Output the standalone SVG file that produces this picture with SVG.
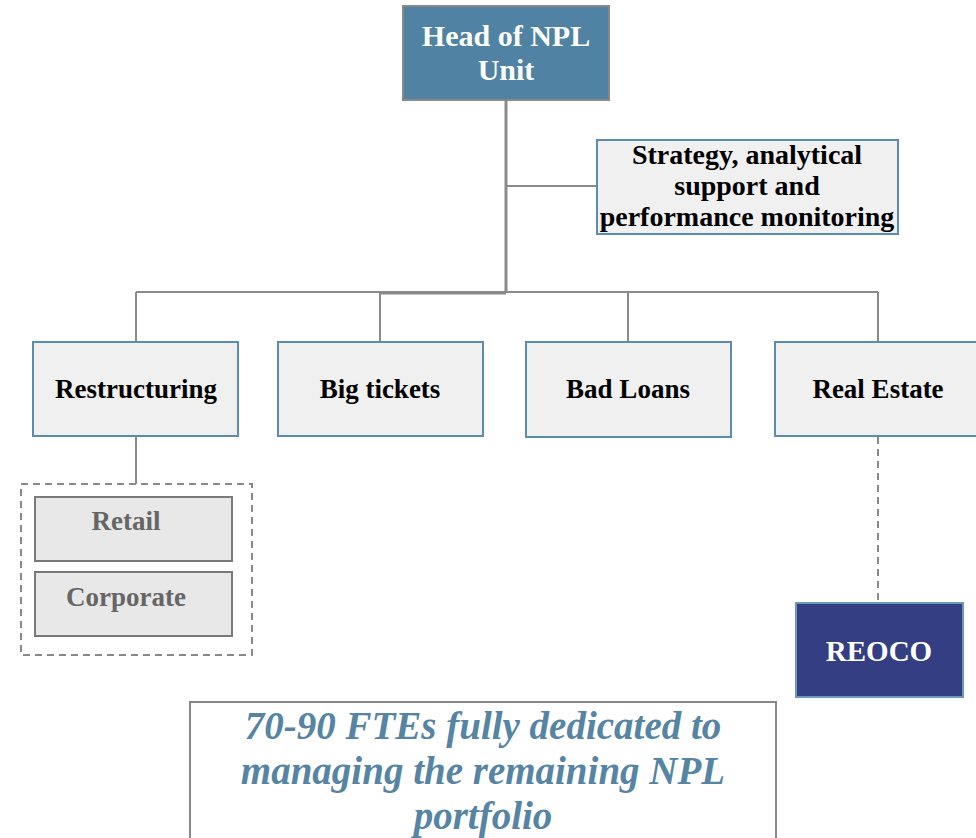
<svg xmlns="http://www.w3.org/2000/svg" width="976" height="838" viewBox="0 0 976 838">
<style>
.t{font-family:"Liberation Serif","Times New Roman",serif;font-weight:bold;text-anchor:middle}
.box{fill:#f0f0f0;stroke:#5b8db0;stroke-width:2}
.sub{fill:#e8e8e8;stroke:#7a7a7a;stroke-width:2}
.ln{stroke:#8a8a8a;stroke-width:2;fill:none}
.dash{stroke:#8a8a8a;stroke-width:2;fill:none;stroke-dasharray:7,5}
</style>
<rect width="976" height="838" fill="#ffffff"/>
<g id="connectors">
<path class="ln" d="M506 100V292" style="stroke-width:3"/>
<path class="ln" d="M506 186H597"/>
<path class="ln" d="M136 292H878"/>
<path class="ln" d="M380 293H506" style="stroke-width:3"/>
<path class="ln" d="M136 292V342M380 293V342M628 292V342M878 292V342"/>
<path class="ln" d="M136 436V484"/>
<path class="dash" d="M878 437V603"/>
</g>
<g id="head">
<rect x="403" y="6" width="206" height="94" fill="#5082a4" stroke="#888" stroke-width="2"/>
<text class="t" x="506" y="46" font-size="30" fill="#fff">Head of NPL</text>
<text class="t" x="506" y="80" font-size="30" fill="#fff">Unit</text>
</g>
<g id="strategy">
<rect class="box" x="597" y="140" width="301" height="94"/>
<text class="t" x="747" y="164" font-size="28" fill="#000">Strategy, analytical</text>
<text class="t" x="747" y="195" font-size="28" fill="#000">support and</text>
<text class="t" x="747" y="226" font-size="28" fill="#000">performance monitoring</text>
</g>
<g id="restructuring">
<rect class="box" x="33" y="342" width="205" height="94"/>
<text class="t" x="136" y="398" font-size="27" fill="#000">Restructuring</text>
</g>
<g id="bigtickets">
<rect class="box" x="278" y="342" width="205" height="94"/>
<text class="t" x="380" y="398" font-size="27" fill="#000">Big tickets</text>
</g>
<g id="badloans">
<rect class="box" x="526" y="342" width="205" height="95"/>
<text class="t" x="628" y="398" font-size="27" fill="#000">Bad Loans</text>
</g>
<g id="realestate">
<rect class="box" x="775" y="342" width="210" height="94"/>
<text class="t" x="878" y="398" font-size="27" fill="#000">Real Estate</text>
</g>
<g id="restructuring-group">
<rect class="dash" x="21" y="484" width="231" height="171"/>
</g>
<g id="retail">
<rect class="sub" x="35" y="497" width="197" height="64"/>
<text class="t" x="126" y="530" font-size="27" fill="#666">Retail</text>
</g>
<g id="corporate">
<rect class="sub" x="35" y="572" width="197" height="64"/>
<text class="t" x="126" y="606" font-size="27" fill="#666">Corporate</text>
</g>
<g id="reoco">
<rect x="796" y="603" width="167" height="94" fill="#343e82" stroke="#6a9ab5" stroke-width="2"/>
<text class="t" x="879" y="661" font-size="29" fill="#fff">REOCO</text>
</g>
<g id="fte-note">
<rect x="190" y="702" width="586" height="150" fill="#fff" stroke="#888" stroke-width="2"/>
<text class="t" x="483" y="739" font-size="39" font-style="italic" fill="#5584a4">70-90 FTEs fully dedicated to</text>
<text class="t" x="483" y="784" font-size="39" font-style="italic" fill="#5584a4">managing the remaining NPL</text>
<text class="t" x="483" y="829" font-size="39" font-style="italic" fill="#5584a4">portfolio</text>
</g>
</svg>
